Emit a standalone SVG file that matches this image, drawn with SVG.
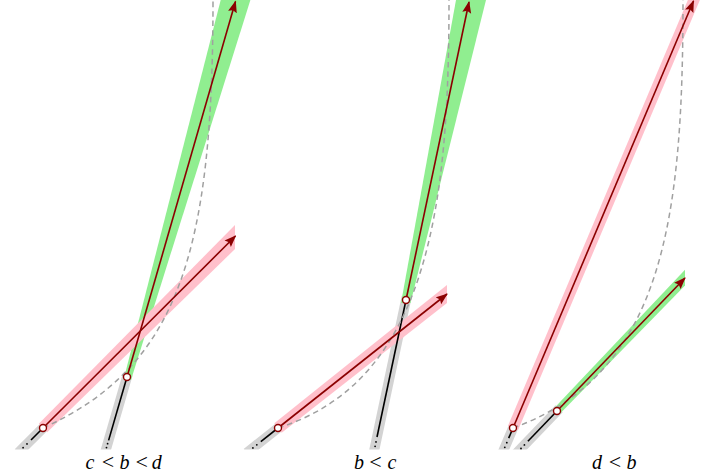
<svg xmlns="http://www.w3.org/2000/svg" width="706" height="473" viewBox="0 0 706 473">
<defs>
<style>
.gray{stroke:#d3d3d3;stroke-width:10;fill:none}
.pink{fill:#ffc0cb}
.green{fill:#90ee90}
.blk{stroke:#000;stroke-width:1.6;fill:none}
.dot{fill:#000}
.red{stroke:#8b0000;stroke-width:1.6;fill:none;marker-end:url(#ah)}
.dash{stroke:#a0a0a0;stroke-width:1.5;fill:none;stroke-dasharray:5.5 4}
.pt{fill:#fff;stroke:#8b0000;stroke-width:1.4}
.lbl{font-family:"Liberation Serif",serif;font-size:20px;fill:#000}
.v{font-style:italic}
.rel{font-size:22px}
</style>
<clipPath id="clipb"><rect x="0" y="0" width="706" height="449.5"/></clipPath>
<marker id="ah" viewBox="0 -5 12 10" refX="11" refY="0" markerWidth="12" markerHeight="10" markerUnits="userSpaceOnUse" orient="auto"><path d="M0,-4.5 L12,0 L0,4.5 L2,0 z" fill="#8b0000"/></marker>
</defs>

<g id="panel1">
  <g id="p1-bands">
    <g clip-path="url(#clipb)">
      <path class="gray" d="M45.1,425.9 L18.2,452.7"/>
      <path class="gray" d="M127.8,374.1 L104.7,453.8"/>
    </g>
    <polygon class="green" points="123.5,380 131,380 250.4,0 220.7,0"/>
    <polygon class="pink" points="38.8,423.7 47.2,432.3 235,249 235,225"/>
  </g>
  <g id="p1-connectors">
    <path class="blk" d="M43,428 L31,440"/>
    <circle class="dot" cx="27" cy="443.9" r="0.9"/>
    <circle class="dot" cx="23.1" cy="447.7" r="0.9"/>
    <path class="blk" d="M127,377 L108.6,440.4"/>
    <circle class="dot" cx="107.6" cy="443.7" r="0.9"/>
    <circle class="dot" cx="106.5" cy="447.6" r="0.9"/>
    <path class="dash" d="M43,428 C179.5,366.5 213,250 213,0"/>
    <path class="red" d="M43,428 L235.5,236"/>
    <path class="red" d="M127,377 L235.5,1.5"/>
  </g>
  <g id="p1-a"><circle class="pt" cx="43" cy="428" r="3.5"/></g>
  <g id="p1-b"><circle class="pt" cx="127" cy="377" r="3.5"/></g>
  <text class="lbl" y="468.5" text-anchor="middle"><tspan class="v" x="90">c</tspan><tspan class="rel" x="108">&lt;</tspan><tspan class="v" x="124.5">b</tspan><tspan class="rel" x="141.7">&lt;</tspan><tspan class="v" x="156.7">d</tspan></text>
</g>

<g id="panel2">
  <g id="p2-bands">
    <g clip-path="url(#clipb)">
      <path class="gray" d="M280.4,426.1 L246.7,452.8"/>
      <path class="gray" d="M406.6,297.1 L372.9,456.5"/>
    </g>
    <polygon class="green" points="401,303 410.5,303 486,0 456,0"/>
    <polygon class="pink" points="274.3,423.3 281.7,432.7 447,302.9 447,285.1"/>
  </g>
  <g id="p2-connectors">
    <path class="blk" d="M278,428 L260.8,441.7"/>
    <circle class="dot" cx="256.8" cy="444.8" r="0.9"/>
    <circle class="dot" cx="252.9" cy="447.9" r="0.9"/>
    <path class="blk" d="M406,300 L377,437"/>
    <circle class="dot" cx="376" cy="441.9" r="0.9"/>
    <circle class="dot" cx="375.1" cy="446.3" r="0.9"/>
    <path class="dash" d="M278,428 C430.6,380 449,200 449,0"/>
    <path class="red" d="M278,428 L447,294"/>
    <path class="red" d="M406,300 L469,2"/>
  </g>
  <g id="p2-a"><circle class="pt" cx="278" cy="428" r="3.5"/></g>
  <g id="p2-c"><circle class="pt" cx="406" cy="300" r="3.5"/></g>
  <text class="lbl" y="468.5" text-anchor="middle"><tspan class="v" x="359">b</tspan><tspan class="rel" x="375.5">&lt;</tspan><tspan class="v" x="392">c</tspan></text>
</g>

<g id="panel3">
  <g id="p3-bands">
    <g clip-path="url(#clipb)">
      <path class="gray" d="M514.2,425.2 L501.3,455.6"/>
      <path class="gray" d="M559.1,408.8 L515.4,454.3"/>
    </g>
    <polygon class="pink" points="507.9,425.9 518.1,430.1 702,-5 690,-5"/>
    <polygon class="green" points="554.1,408.2 559.9,413.8 685,285.6 685,269.7"/>
  </g>
  <g id="p3-connectors">
    <path class="blk" d="M513,428 L508.7,438.1"/>
    <circle class="dot" cx="506.8" cy="442.7" r="0.9"/>
    <circle class="dot" cx="504.8" cy="447.3" r="0.9"/>
    <path class="blk" d="M557,411 L527.9,441.3"/>
    <circle class="dot" cx="524.4" cy="444.9" r="0.9"/>
    <circle class="dot" cx="521" cy="448.5" r="0.9"/>
    <path class="dash" d="M513,428 C663.4,373.6 683,220 683,0"/>
    <path class="red" d="M513,428 L693.5,1"/>
    <path class="red" d="M557,411 L685,278"/>
  </g>
  <g id="p3-a"><circle class="pt" cx="513" cy="428" r="3.5"/></g>
  <g id="p3-b"><circle class="pt" cx="557" cy="411" r="3.5"/></g>
  <text class="lbl" y="468.5" text-anchor="middle"><tspan class="v" x="597">d</tspan><tspan class="rel" x="615">&lt;</tspan><tspan class="v" x="631.5">b</tspan></text>
</g>
</svg>
